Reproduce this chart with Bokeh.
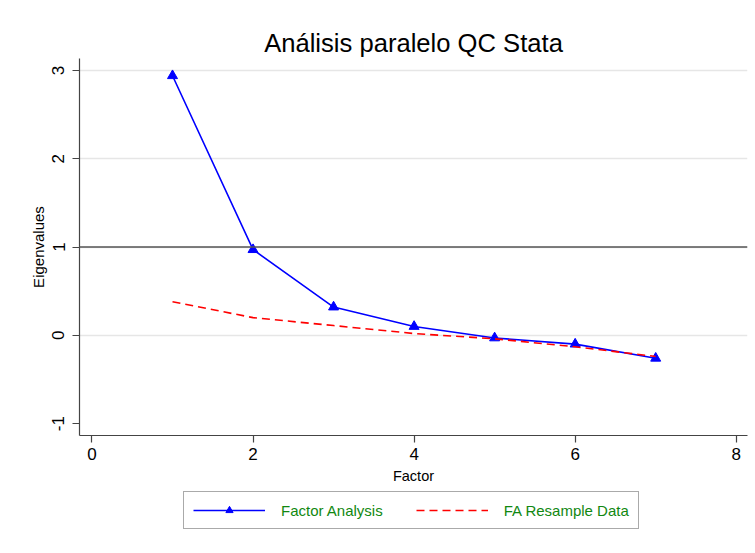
from bokeh.plotting import figure
from bokeh.layouts import column
from bokeh.models import Range1d, FixedTicker, Span, Legend, LegendItem
from bokeh.embed import file_html
from bokeh.resources import INLINE

# Data
factors = [1, 2, 3, 4, 5, 6, 7]
fa_eigen = [2.94, 0.97, 0.32, 0.10, -0.03, -0.10, -0.26]
resample_eigen = [0.38, 0.20, 0.11, 0.02, -0.04, -0.13, -0.24]
x_ticks = [0, 2, 4, 6, 8]
y_ticks = [-1, 0, 1, 2, 3]
y_tick_labels = {-1: "-1", 0: "0", 1: "1", 2: "2", 3: "3"}
grid_ticks = [0, 1, 2, 3]
title_text = "Análisis paralelo QC Stata"
series_names = ["Factor Analysis", "FA Resample Data"]

FONT = "Liberation Sans"
BLUE = "#0000ff"
RED = "#ff0000"

p = figure(width=755, height=486, output_backend="svg", toolbar_location=None,
           x_range=Range1d(-0.155, 8.14), y_range=Range1d(-1.135, 3.135),
           min_border_left=79, min_border_right=8, min_border_top=58,
           min_border_bottom=50, title=title_text)
p.background_fill_color = "white"
p.border_fill_color = "white"
p.outline_line_color = None

p.title.text_font = FONT
p.title.text_font_size = "25.6px"
p.title.text_font_style = "normal"
p.title.align = "center"
p.title.text_color = "black"
p.title.standoff = 4

# Axes
for ax in (p.xaxis[0], p.yaxis[0]):
    ax.axis_line_color = "#444444"
    ax.axis_line_width = 1.2
    ax.major_tick_line_color = "#444444"
    ax.major_tick_line_width = 1.2
    ax.major_tick_out = 7
    ax.major_tick_in = 0
    ax.minor_tick_line_color = None
    ax.major_label_text_font = FONT
    ax.major_label_text_font_size = "17px"
    ax.major_label_text_color = "black"
    ax.axis_label_text_font = FONT
    ax.axis_label_text_font_size = "14.5px"
    ax.axis_label_text_font_style = "normal"
    ax.axis_label_text_color = "black"

p.xaxis.ticker = FixedTicker(ticks=x_ticks)
p.yaxis.ticker = FixedTicker(ticks=y_ticks)
p.yaxis.major_label_overrides = y_tick_labels
p.xaxis.axis_label = "Factor"
p.yaxis.axis_label = "Eigenvalues"
p.yaxis.major_label_orientation = "vertical"
p.xaxis.major_label_standoff = 5
p.yaxis.major_label_standoff = 8
p.xaxis.axis_label_standoff = 5
p.yaxis.axis_label_standoff = 3
p.yaxis.axis_label_text_font_size = "15px"

p.xgrid.grid_line_color = None
p.ygrid.ticker = FixedTicker(ticks=grid_ticks)
p.ygrid.grid_line_color = "#e6e6e6"
p.ygrid.grid_line_width = 1.5

p.add_layout(Span(location=1, dimension="width", line_color="#555555", line_width=1.5))

# Series
p.line(factors, fa_eigen, line_color=BLUE, line_width=1.6)
p.scatter(factors, fa_eigen, marker="triangle", size=10,
          fill_color=BLUE, line_color=BLUE)
p.line(factors, resample_eigen, line_color=RED, line_width=1.6, line_dash="8 5")

# Legend strip below the chart (same series, drawn off-range so only the key shows)
lg = figure(width=755, height=67, output_backend="svg", toolbar_location=None,
            x_range=Range1d(-100, -99), y_range=Range1d(-100, -99),
            x_axis_location=None, y_axis_location=None, min_border=0)
lg.outline_line_color = None
lg.grid.grid_line_color = None
lg.background_fill_color = "white"
lg.border_fill_color = "white"
d1 = lg.line(factors, fa_eigen, line_color=BLUE, line_width=1.6)
d1m = lg.scatter(factors, fa_eigen, marker="triangle", size=9,
                 fill_color=BLUE, line_color=BLUE)
d2 = lg.line(factors, resample_eigen, line_color=RED, line_width=1.6, line_dash="8 5")

legend = Legend(items=[LegendItem(label=series_names[0], renderers=[d1, d1m]),
                       LegendItem(label=series_names[1], renderers=[d2])],
                location=(104, 24), orientation="horizontal")
legend.label_text_font = FONT
legend.label_text_font_size = "15px"
legend.label_text_color = "#118811"
legend.glyph_width = 72
legend.glyph_height = 18
legend.label_height = 18
legend.label_standoff = 16
legend.spacing = 33
legend.padding = 9
legend.margin = 0
legend.border_line_color = "#555555"
legend.border_line_width = 1.2
legend.background_fill_color = "white"
legend.background_fill_alpha = 1
lg.add_layout(legend)

layout = column(p, lg, spacing=0)
open("out.html", "w").write(file_html(layout, INLINE))
